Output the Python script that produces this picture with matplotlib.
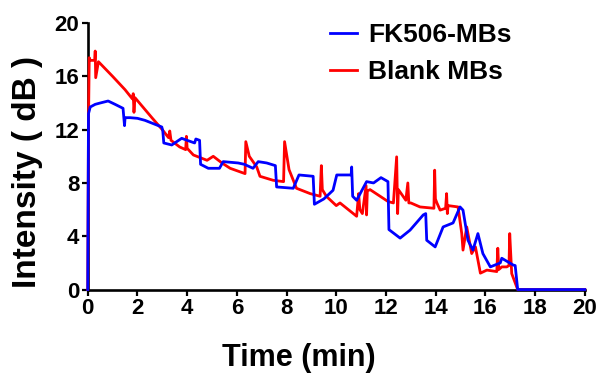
import matplotlib.pyplot as plt

# FK506-MBs trace (time in min, intensity in dB)
blue_t = [0, 0.03, 0.1, 0.3, 0.5, 0.82, 1.1, 1.42, 1.48, 1.5, 1.52, 1.7, 2.0, 2.3,
          2.98, 3.02, 3.06, 3.38, 3.78, 4.0, 4.3, 4.35, 4.5, 4.54, 4.85, 5.3, 5.45,
          6.05, 6.3, 6.65, 6.86, 7.2, 7.55, 7.6, 8.27, 8.5, 9.07, 9.12, 9.5, 9.87,
          10.02, 10.3, 10.6, 10.62, 10.66, 10.82, 11.22, 11.5, 11.8, 12.08, 12.12,
          12.57, 12.97, 13.5, 13.6, 13.64, 13.98, 14.3, 14.7, 14.98, 15.1, 15.3,
          15.5, 15.7, 15.9, 16.2, 16.6, 16.66, 17.12, 17.2, 17.3, 20]
blue_v = [0, 13.2, 13.7, 13.9, 14.0, 14.15, 13.9, 13.6, 12.3, 12.85, 12.9, 12.9,
          12.85, 12.7, 12.2, 11.9, 11.0, 10.85, 11.35, 11.2, 11.0, 11.3, 11.2, 9.4,
          9.1, 9.1, 9.6, 9.5, 9.4, 9.1, 9.6, 9.5, 9.3, 7.7, 7.6, 8.6, 8.5, 6.4, 6.8,
          7.45, 8.6, 8.6, 8.6, 9.2, 7.0, 6.7, 8.1, 8.0, 8.4, 8.1, 4.5, 3.86, 4.46,
          5.6, 5.7, 3.7, 3.2, 4.7, 5.0, 6.2, 5.96, 3.7, 2.96, 4.2, 2.7, 1.7, 2.0,
          2.35, 1.84, 1.8, 0, 0]

# Blank MBs trace
red_t = [0, 0.03, 0.06, 0.1, 0.28, 0.3, 0.32, 0.43, 1.0, 1.5, 1.8, 1.83, 1.86, 1.9,
         2.58, 3.0, 3.25, 3.3, 3.35, 3.7, 3.94, 3.97, 4.0, 4.25, 4.8, 5.05, 5.4,
         5.73, 6.33, 6.36, 6.5, 6.8, 6.93, 7.46, 7.88, 7.92, 8.1, 8.4, 8.95, 9.35,
         9.4, 9.44, 9.6, 10.0, 10.15, 10.82, 10.9, 10.95, 11.05, 11.2, 11.22, 11.25,
         11.36, 12.09, 12.3, 12.43, 12.47, 12.5, 12.8, 12.88, 12.92, 13.0, 13.37,
         13.93, 13.96, 13.99, 14.05, 14.18, 14.4, 14.44, 14.47, 14.5, 14.9, 15.05,
         15.1, 15.25, 15.45, 15.6, 15.8, 16.06, 16.46, 16.5, 16.54, 16.66, 16.86,
         16.95, 16.98, 17.06, 17.2, 17.3, 20]
red_v = [0, 12.5, 17.4, 17.2, 17.2, 17.9, 15.9, 17.1, 16.0, 15.0, 14.3, 14.7, 13.3,
         14.4, 12.9, 12.0, 11.4, 11.9, 11.2, 10.7, 10.5, 11.5, 10.6, 10.1, 9.7,
         10.0, 9.5, 9.1, 8.7, 11.1, 10.0, 9.2, 8.5, 8.2, 8.1, 11.1, 9.0, 7.6, 7.2,
         7.0, 9.3, 7.5, 7.0, 6.3, 6.5, 5.5, 7.2, 6.0, 5.7, 7.8, 5.6, 7.4, 7.5, 6.6,
         6.5, 9.96, 5.7, 7.5, 6.7, 8.0, 6.5, 6.5, 6.2, 6.1, 8.96, 6.8, 6.5, 5.96,
         6.1, 7.2, 5.7, 6.3, 6.2, 4.2, 2.96, 4.7, 2.7, 3.2, 1.23, 1.46, 1.35, 3.1,
         1.5, 1.7, 1.7, 1.8, 4.2, 1.2, 0.5, 0, 0]

x_ticks = list(range(0, 21, 2))
y_ticks = list(range(0, 21, 4))

plt.rcParams['font.family'] = ['Liberation Sans', 'DejaVu Sans']
plt.rcParams['font.weight'] = 'bold'

fig = plt.figure(figsize=(6.01, 3.78), dpi=100)
ax = fig.add_axes([0.146, 0.234, 0.827, 0.705])

ax.plot(red_t, red_v, color='#ff0000', lw=2.0, label='Blank MBs', clip_on=False, zorder=3)
ax.plot(blue_t, blue_v, color='#0000ff', lw=2.0, label='FK506-MBs', clip_on=False, zorder=4)

ax.set_xlim(0, 20)
ax.set_ylim(0, 20)
ax.set_xticks(x_ticks)
ax.set_yticks(y_ticks)

for side in ['top', 'right']:
    ax.spines[side].set_visible(False)
for side in ['left', 'bottom']:
    ax.spines[side].set_linewidth(1.9)

ax.tick_params(direction='out', length=4, width=1.6, labelsize=16, pad=2)
for lab in ax.get_xticklabels() + ax.get_yticklabels():
    lab.set_fontweight('bold')

ax.set_xlabel('Time (min)', fontsize=22, fontweight='bold')
ax.xaxis.set_label_coords(0.425, -0.2)
ax.set_ylabel('Intensity ( dB )', fontsize=24, fontweight='bold')
ax.yaxis.set_label_coords(-0.09, 0.44)

handles, labels = ax.get_legend_handles_labels()
leg = ax.legend(handles[::-1], labels[::-1], loc='upper left',
                bbox_to_anchor=(0.44, 1.09), frameon=False,
                prop={'size': 19, 'weight': 'bold'},
                handlelength=1.0, handletextpad=0.45, labelspacing=0.5)

fig.savefig('out.png', dpi=100)
